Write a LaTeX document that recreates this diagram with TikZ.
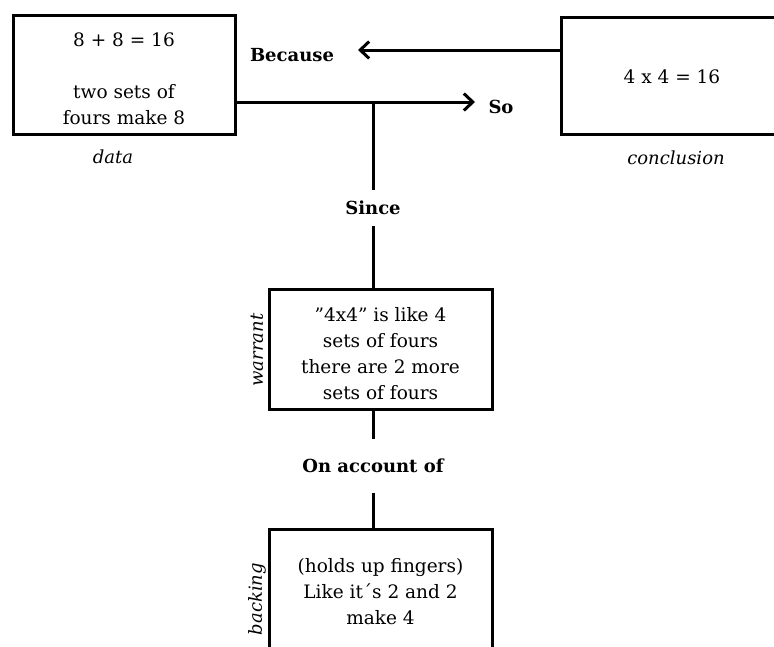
\documentclass[tikz,border=0pt]{standalone}
\usepackage{fontspec}
\setmainfont{DejaVu Serif}
\usetikzlibrary{arrows.meta}
% extra height on a box's first line, which sets its text a little lower
\newcommand{\firstline}{\rule{0pt}{23pt}}
\begin{document}
\begin{tikzpicture}[x=1pt,y=-1pt,
  box/.style={draw, line width=3pt, align=center, inner sep=0pt,
    font=\fontsize{18.5}{26}\selectfont},
  lbl/.style={inner xsep=4pt, inner ysep=11pt, font=\fontsize{18}{22}\selectfont\bfseries},
  role/.style={inner sep=0pt, font=\fontsize{18}{22}\selectfont\itshape},
  link/.style={line width=3pt},
  arr/.style={link, -{Straight Barb[length=9pt,width=17pt]}}]
\useasboundingbox (0,0) rectangle (774,646);
\clip (0,0) rectangle (774,646);

% claim boxes
\node[box, minimum width=222pt, minimum height=119pt] (data) at (124,74.5)
  {\firstline 8 + 8 = 16\\[26pt]two sets of\\fours make 8};
\node[box, minimum width=222pt, minimum height=117pt] (concl) at (672,75.5)
  {\rule{0pt}{17pt}4 x 4 = 16};
\node[box, minimum width=223pt, minimum height=120pt] (warrant) at (380.5,349)
  {\firstline ”4x4” is like 4\\sets of fours\\there are 2 more\\sets of fours};
\node[box, minimum width=223pt, minimum height=120pt] (backing) at (380.5,589)
  {\rule{0pt}{20pt}(holds up fingers)\\Like it´s 2 and 2\\make 4};

% role captions
\node[role] (datacap) at (113,157) {data};
\node[role] (conclcap) at (676,158) {conclusion};
\node[role, rotate=90] (warrantcap) at (257,350) {warrant};
\node[role, rotate=90] (backingcap) at (257,599) {backing};

% connective words
\node[lbl] (because) at (292,55) {Because};
\node[lbl] (so) at (501,107) {So};
\node[lbl] (since) at (373,208) {Since};
\node[lbl, inner ysep=20pt] (onacc) at (373,466) {On account of};

% connectors
\coordinate (btip) at (358,50);
\coordinate (stip) at (475,102);
\coordinate (junc) at (373,102);
\draw[arr] (concl.west |- btip) -- (btip);
\draw[arr] (data.east |- stip) -- (stip);
\draw[link] (junc) -- (since.north);
\draw[link] (since.south) -- (since.south |- warrant.north);
\draw[link] (warrant.south -| onacc) -- (onacc.north);
\draw[link] (onacc.south) -- (onacc.south |- backing.north);
\end{tikzpicture}
\end{document}
